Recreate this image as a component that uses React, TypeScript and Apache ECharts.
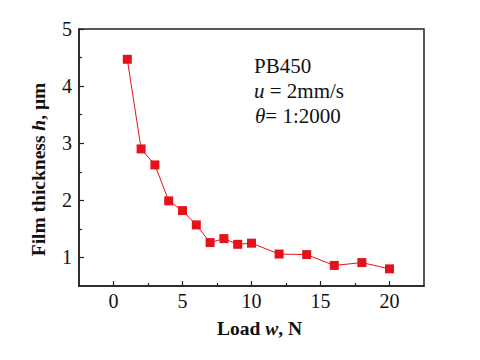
import React, { useEffect, useRef } from "react";
import * as echarts from "echarts";

const loads = [1, 2, 3, 4, 5, 6, 7, 8, 9, 10, 12, 14, 16, 18, 20];
const thickness = [4.47, 2.9, 2.62, 1.99, 1.82, 1.57, 1.26, 1.33, 1.23, 1.25, 1.06, 1.05, 0.86, 0.91, 0.8];
const xMajorTicks = [0, 5, 10, 15, 20];
const xMinorTicks = [2.5, 7.5, 12.5, 17.5];
const yMajorTicks = [1, 2, 3, 4, 5];
const yMinorTicks = [1.5, 2.5, 3.5, 4.5];
const annotation = ["PB450", "u = 2mm/s", "θ= 1:2000"];

const FONT = "Liberation Serif";
const AXIS_COLOR = "#222";
const RED = "#e3121b";

export default function App() {
  const ref = useRef<HTMLDivElement>(null);
  useEffect(() => {
    if (!ref.current) return;
    const chart = echarts.init(ref.current, null, { renderer: "svg" });
    const grid = { left: 79, top: 29, right: 56, bottom: 74 };
    const baseX = {
      type: "value" as const,
      min: -2.5,
      max: 22.5,
      splitLine: { show: false },
    };
    const baseY = {
      type: "value" as const,
      min: 0.5,
      max: 5,
      splitLine: { show: false },
    };
    const txt = (size: number, bold: boolean, ital: boolean) => ({
      fontFamily: FONT,
      fontSize: size,
      fontWeight: bold ? "bold" : "normal",
      fontStyle: ital ? "italic" : "normal",
      color: "#111",
    });
    const annoTitle = (text: string, left: number, top: number) => ({
      text,
      left,
      top,
      padding: 0,
      textStyle: {
        ...txt(21, false, false),
        rich: { n: txt(21, false, false), i: txt(21, false, true) },
      },
    });
    chart.setOption({
      animation: false,
      backgroundColor: "#fff",
      textStyle: { fontFamily: FONT },
      title: [
        annoTitle("{n|" + annotation[0] + "}", 254, 55),
        annoTitle("{i|u}{n|" + annotation[1].slice(1) + "}", 254, 80),
        annoTitle("{i|θ}{n|" + annotation[2].slice(1) + "}", 255, 105),
      ],
      grid: { ...grid, show: true, borderColor: AXIS_COLOR, borderWidth: 1.5, backgroundColor: "transparent" },
      xAxis: [
        {
          ...baseX,
          position: "bottom",
          axisLine: { show: true, onZero: false, lineStyle: { color: AXIS_COLOR, width: 1.5 } },
          axisTick: { show: true, inside: true, length: 5, customValues: xMajorTicks, lineStyle: { color: AXIS_COLOR, width: 1.2 } },
          axisLabel: { customValues: xMajorTicks, fontFamily: FONT, fontSize: 20, color: "#111", margin: 5 },
          name: "Load {i|w}, N",
          nameLocation: "middle",
          nameGap: 32,
          nameTextStyle: {
            ...txt(19.5, true, false),
            padding: [0, 0, 0, 16],
            rich: { i: txt(19.5, true, true) },
          },
        },
        {
          ...baseX,
          position: "bottom",
          axisLine: { show: false, onZero: false },
          axisTick: { show: true, inside: true, length: 3, customValues: xMinorTicks, lineStyle: { color: AXIS_COLOR, width: 1.2 } },
          axisLabel: { show: false },
        },
      ],
      yAxis: [
        {
          ...baseY,
          position: "left",
          axisLine: { show: true, onZero: false, lineStyle: { color: AXIS_COLOR, width: 1.5 } },
          axisTick: { show: true, inside: true, length: 5, customValues: yMajorTicks, lineStyle: { color: AXIS_COLOR, width: 1.2 } },
          axisLabel: { customValues: yMajorTicks, fontFamily: FONT, fontSize: 20, color: "#111", margin: 7 },
          name: "Film thickness {i|h}, μm",
          nameLocation: "middle",
          nameGap: 31,
          nameTextStyle: {
            ...txt(19.5, true, false),
            padding: [0, 24, 0, 0],
            rich: { i: txt(19.5, true, true) },
          },
        },
        {
          ...baseY,
          position: "left",
          axisLine: { show: false, onZero: false },
          axisTick: { show: true, inside: true, length: 3, customValues: yMinorTicks, lineStyle: { color: AXIS_COLOR, width: 1.2 } },
          axisLabel: { show: false },
        },
      ],
      series: [
        {
          type: "line",
          xAxisIndex: 0,
          yAxisIndex: 0,
          data: loads.map((x, i) => [x, thickness[i]]),
          symbol: "rect",
          symbolSize: 9,
          itemStyle: { color: RED },
          lineStyle: { color: RED, width: 1 },
        },
      ],
    });
    return () => chart.dispose();
  }, []);
  return <div ref={ref} style={{ width: 480, height: 360, position: "absolute", left: 0, top: 0 }} />;
}
